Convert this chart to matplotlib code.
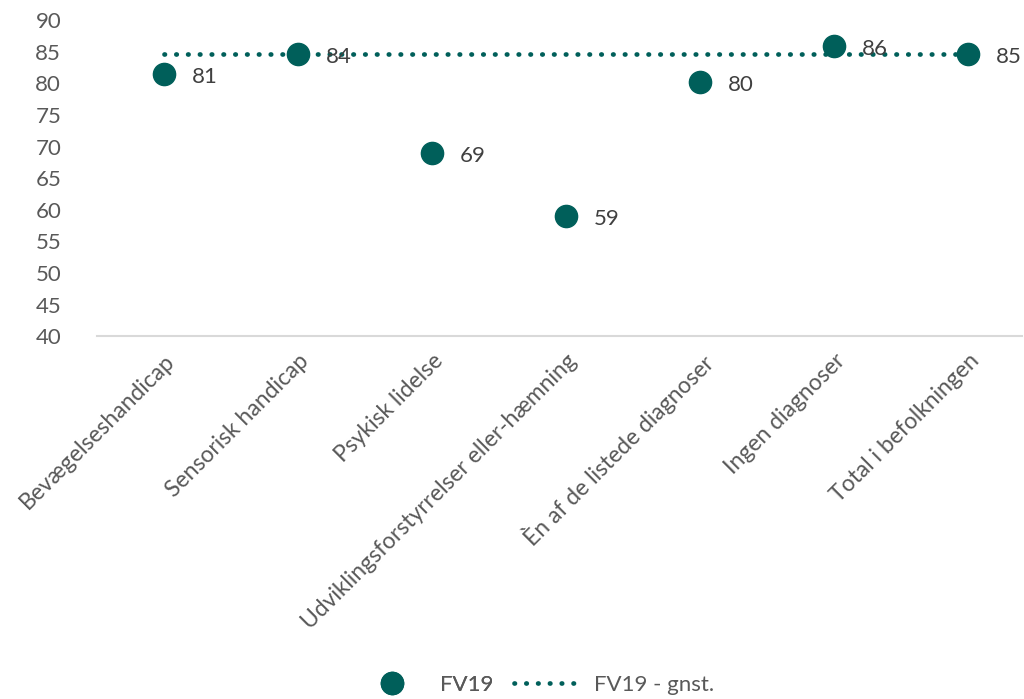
import matplotlib.pyplot as plt

plt.rcParams['font.family'] = ['Lato', 'DejaVu Sans']

categories = ['Bevægelseshandicap', 'Sensorisk handicap', 'Psykisk lidelse',
              'Udviklingsforstyrrelser eller-hæmning', 'Èn af de listede diagnoser',
              'Ingen diagnoser', 'Total i befolkningen']
fv19 = [81.5, 84.6, 69.0, 59.0, 80.2, 85.9, 84.6]
fv19_labels = ['81', '84', '69', '59', '80', '86', '85']
fv19_avg = [84.6] * 7

GREEN = '#005F5A'
TEXT = '#404040'
TICK = '#595959'

fig = plt.figure(figsize=(10.24, 6.99), dpi=100)
ax = fig.add_axes([0.095, 0.519, 0.903, 0.452])

x = list(range(len(categories)))
avg_line, = ax.plot(x, fv19_avg, linestyle=(0, (0.1, 2.4)), dash_capstyle='round',
                    linewidth=3.4, color=GREEN, label='FV19 - gnst.', zorder=2)
pts, = ax.plot(x, fv19, linestyle='none', marker='o', markersize=16, color=GREEN,
               label='FV19', zorder=3)

for xi, yi, lab in zip(x, fv19, fv19_labels):
    ax.annotate(lab, (xi, yi), xytext=(20, -2), textcoords='offset points',
                ha='left', va='center', fontsize=16, color=TEXT)

ax.set_ylim(40, 90)
ax.set_yticks(range(40, 91, 5))
ax.set_xlim(-0.5, 6.4)
ax.set_xticks(x)
ax.set_xticklabels(categories, rotation=45, ha='right', rotation_mode='anchor',
                   fontsize=16.5, color=TICK)
ax.tick_params(axis='y', length=0, labelsize=16, colors=TICK, pad=26)
ax.tick_params(axis='x', length=0, colors=TICK, pad=10)

for s in ['top', 'right', 'left']:
    ax.spines[s].set_visible(False)
ax.spines['bottom'].set_color('#D9D9D9')
ax.spines['bottom'].set_linewidth(1.5)

# two separate legend entries so the spacing matches the original
leg1 = fig.legend([pts], ['FV19'], loc='center left', bbox_to_anchor=(0.372, 0.02),
                  frameon=False, fontsize=16, labelcolor=TICK, borderpad=0,
                  borderaxespad=0, handlelength=1.0, handletextpad=1.67)
fig.add_artist(leg1)
fig.legend([avg_line], ['FV19 - gnst.'], loc='center left', bbox_to_anchor=(0.502, 0.02),
           frameon=False, fontsize=16, labelcolor=TICK, borderpad=0,
           borderaxespad=0, handlelength=3.15, handletextpad=0.45)

fig.savefig('out.png', dpi=100)
